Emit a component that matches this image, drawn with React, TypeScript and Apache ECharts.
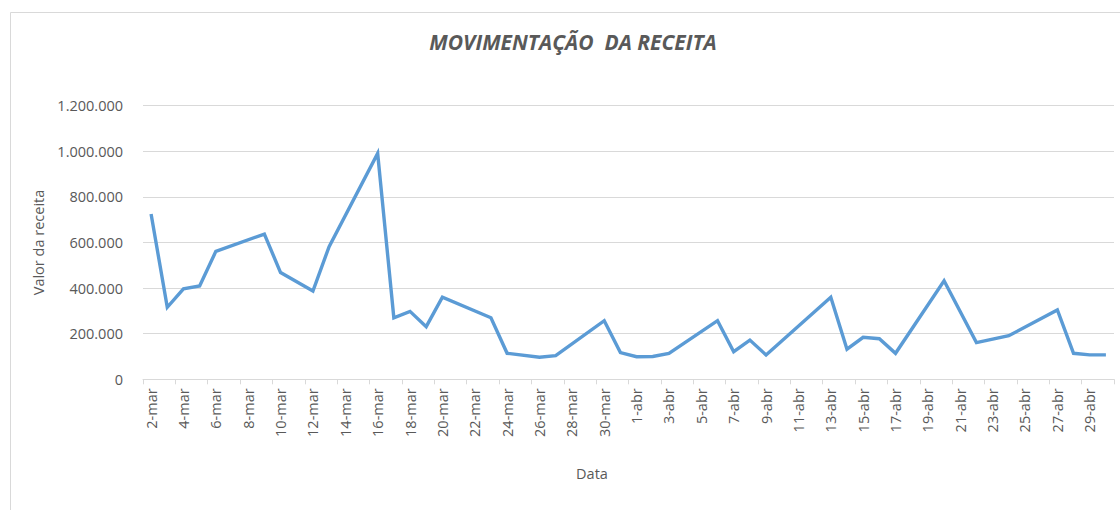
import React, { useEffect, useRef } from "react";
import * as echarts from "echarts";

const categories: string[] = [
  "2-mar", "3-mar", "4-mar", "5-mar", "6-mar", "7-mar", "8-mar", "9-mar", "10-mar", "11-mar",
  "12-mar", "13-mar", "14-mar", "15-mar", "16-mar", "17-mar", "18-mar", "19-mar", "20-mar", "21-mar",
  "22-mar", "23-mar", "24-mar", "25-mar", "26-mar", "27-mar", "28-mar", "29-mar", "30-mar", "31-mar",
  "1-abr", "2-abr", "3-abr", "4-abr", "5-abr", "6-abr", "7-abr", "8-abr", "9-abr", "10-abr",
  "11-abr", "12-abr", "13-abr", "14-abr", "15-abr", "16-abr", "17-abr", "18-abr", "19-abr", "20-abr",
  "21-abr", "22-abr", "23-abr", "24-abr", "25-abr", "26-abr", "27-abr", "28-abr", "29-abr", "30-abr",
];

const receita: (number | null)[] = [
  725000, 316000, 397000, 409000, 561000, null, null, 637000, 468000, null,
  387000, 582000, null, null, 991000, 270000, 298000, 231000, 360000, null,
  null, 270000, 114000, null, 97000, 104000, null, null, 257000, 117000,
  99000, 100000, 114000, null, null, 257000, 121000, 172000, 107000, null,
  null, null, 360000, 132000, 184000, 178000, 114000, null, null, 432000,
  null, 161000, null, 191000, null, null, 304000, 114000, 107000, 107000,
];

const yMin = 0;
const yMax = 1200000;
const yStep = 200000;

const title = "MOVIMENTAÇÃO  DA RECEITA";
const yName = "Valor da receita";
const xName = "Data";

const fmt = (v: number) => String(Math.round(v)).replace(/\B(?=(\d{3})+(?!\d))/g, ".");

export default function App() {
  const ref = useRef<HTMLDivElement>(null);
  useEffect(() => {
    document.body.style.margin = "0";
    if (!ref.current) return;
    const chart = echarts.init(ref.current, null, { renderer: "svg" });
    const font = "'Open Sans', sans-serif";
    chart.setOption({
      animation: false,
      backgroundColor: "#ffffff",
      textStyle: { fontFamily: font },
      title: {
        text: title,
        left: 568,
        top: 26,
        textAlign: "center",
        textStyle: {
          fontFamily: font,
          fontSize: 21,
          fontWeight: "bold",
          fontStyle: "italic",
          color: "#595959",
        },
      },
      graphic: [
        {
          type: "rect",
          shape: { x: 10.5, y: 12.5, width: 1200, height: 600 },
          style: { fill: "none", stroke: "#D9D9D9", lineWidth: 1 },
          silent: true,
        },
        {
          type: "text",
          x: 592,
          y: 473,
          style: {
            text: xName,
            fontFamily: font,
            fontSize: 14.5,
            fill: "#595959",
            textAlign: "center",
            textVerticalAlign: "middle",
          },
        },
      ],
      grid: { left: 143, right: 6, top: 105.7, bottom: 130.7, containLabel: false },
      xAxis: {
        type: "category",
        data: categories,
        boundaryGap: true,
        axisLine: { show: true, lineStyle: { color: "#D9D9D9", width: 1 } },
        axisTick: { show: true, interval: 1, length: 5, lineStyle: { color: "#D9D9D9" } },
        axisLabel: {
          interval: 1,
          rotate: 90,
          margin: 9,
          fontFamily: font,
          fontSize: 14.5,
          color: "#595959",
        },
        splitLine: { show: false },
      },
      yAxis: {
        type: "value",
        min: yMin,
        max: yMax,
        interval: yStep,
        name: yName,
        nameLocation: "middle",
        nameGap: 94,
        nameTextStyle: { fontFamily: font, fontSize: 14.5, color: "#595959" },
        axisLine: { show: false },
        axisTick: { show: false },
        axisLabel: {
          margin: 20,
          fontFamily: font,
          fontSize: 14.5,
          color: "#595959",
          formatter: (v: number) => fmt(v),
        },
        splitLine: { show: true, lineStyle: { color: "#D9D9D9", width: 1 } },
      },
      series: [
        {
          type: "line",
          data: receita,
          connectNulls: true,
          showSymbol: false,
          symbol: "none",
          lineStyle: { color: "#5B9BD5", width: 3.4, join: "miter" },
          itemStyle: { color: "#5B9BD5" },
        },
      ],
    });
    return () => chart.dispose();
  }, []);
  return <div ref={ref} style={{ width: 1120, height: 510 }} />;
}
